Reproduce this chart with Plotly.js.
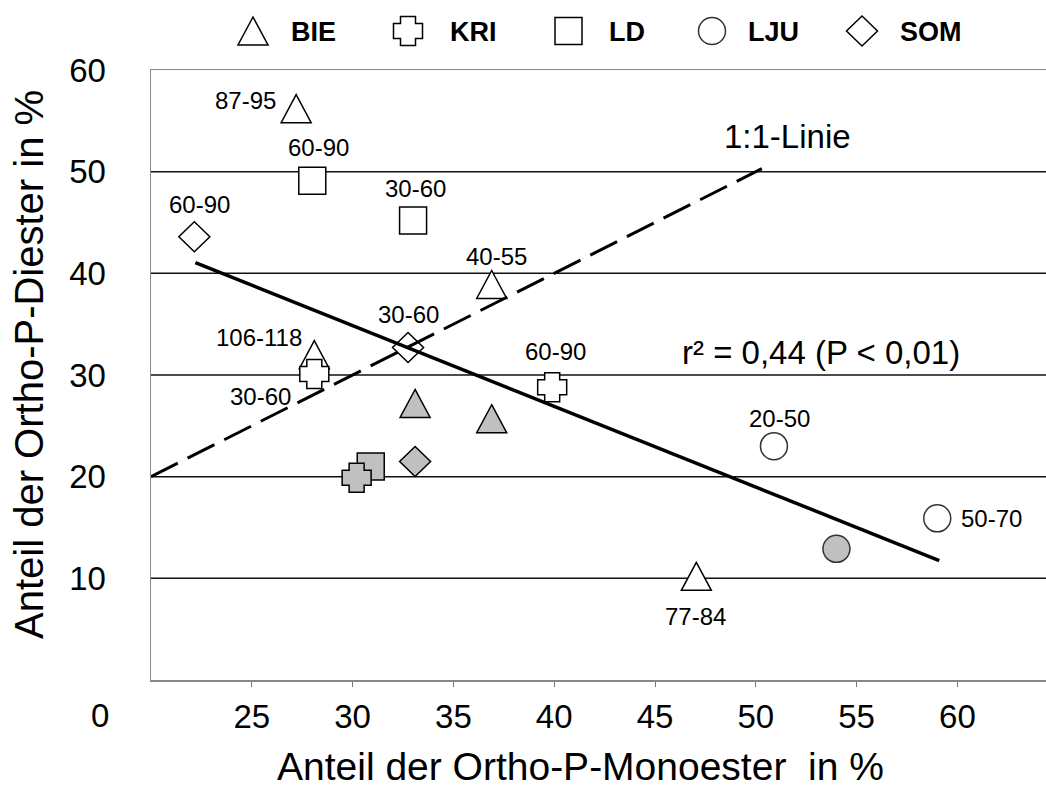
<!DOCTYPE html>
<html>
<head>
<meta charset="utf-8">
<script src="https://cdn.plot.ly/plotly-3.0.1.min.js"></script>
<style>html,body{margin:0;padding:0;background:#fff}</style>
</head>
<body>
<div id="chart" style="width:1046px;height:789px"></div>
<script>
// Sites shown in the legend row
const groups = ['BIE', 'KRI', 'LD', 'LJU', 'SOM'];

// Shares of ortho-P monoester (x) and ortho-P diester (y) in %, per site.
// "open" = samples labelled with depth in cm, "filled" = unlabelled samples.
const bieX = [27.2, 36.9, 28.1, 47.05];
const bieY = [56.2, 38.9, 32.0, 10.2];
const bieDepth = ['87-95', '40-55', '106-118', '77-84'];
const bieFilledX = [33.1, 36.9];
const bieFilledY = [27.2, 25.7];

const kriX = [28.1, 39.9];
const kriY = [30.1, 28.8];
const kriDepth = ['30-60', '60-90'];
const kriFilledX = [30.2];
const kriFilledY = [19.9];

const ldX = [28.0, 33.0];
const ldY = [49.1, 45.2];
const ldDepth = ['60-90', '30-60'];
const ldFilledX = [30.9];
const ldFilledY = [21.0];

const ljuX = [50.9, 59.0];
const ljuY = [23.0, 15.9];
const ljuDepth = ['20-50', '50-70'];
const ljuFilledX = [54.0];
const ljuFilledY = [12.9];

const somX = [22.15, 32.75];
const somY = [43.6, 32.7];
const somDepth = ['60-90', '30-60'];
const somFilledX = [33.1];
const somFilledY = [21.5];

// Regression line (r² = 0,44) and the 1:1 reference line
const trendX = [22.2, 59.1];
const trendY = [41.05, 11.75];
const identX = [20, 50.3];
const identY = [20, 50.3];

// Axis ticks
const xTicks = [25, 30, 35, 40, 45, 50, 55, 60];
const yTicks = [10, 20, 30, 40, 50, 60];

// ---- styling ----
const FONT = 'Liberation Sans, Arial, Helvetica, sans-serif';
const GREY = '#c0c0c0';

// marker outlines in pixels, y pointing up
const SYMBOLS = {
  BIE: {type: 'path', path: 'M0,14 L15,-14 L-15,-14 Z'},
  KRI: {type: 'path', path: 'M-7.5,14.5 H7.5 V7.5 H14.5 V-7.5 H7.5 V-14.5 H-7.5 V-7.5 H-14.5 V7.5 H-7.5 Z'},
  LD:  {type: 'path', path: 'M-13.5,13.5 H13.5 V-13.5 H-13.5 Z'},
  LJU: {type: 'circle', x0: -13.5, x1: 13.5, y0: -13.5, y1: 13.5},
  SOM: {type: 'path', path: 'M0,15 L15.5,0 L0,-15 L-15.5,0 Z'}
};
const OUTLINE = {BIE: '#000', KRI: '#000', LD: '#000', LJU: '#333', SOM: '#000'};

// label offsets (px right, px down) for the depth labels of open markers
const labelShift = {
  BIE: [[-51, -8], [5, -28], [-55, -17], [-1, 40]],
  KRI: [[-54, 23], [3, -36]],
  LD:  [[6, -33], [2, -32]],
  LJU: [[5.5, -28], [54, 0]],
  SOM: [[5, -32], [0, -33]]
};

const sets = [
  {g: 'BIE', x: bieX, y: bieY, lab: bieDepth, fx: bieFilledX, fy: bieFilledY},
  {g: 'LD',  x: ldX,  y: ldY,  lab: ldDepth,  fx: ldFilledX,  fy: ldFilledY},
  {g: 'LJU', x: ljuX, y: ljuY, lab: ljuDepth, fx: ljuFilledX, fy: ljuFilledY},
  {g: 'SOM', x: somX, y: somY, lab: somDepth, fx: somFilledX, fy: somFilledY},
  {g: 'KRI', x: kriX, y: kriY, lab: kriDepth, fx: kriFilledX, fy: kriFilledY}
];

function markerShape(g, xv, yv, fill, xref, yref, layer) {
  const s = Object.assign({}, SYMBOLS[g]);
  return Object.assign(s, {
    xref: xref, yref: yref,
    xsizemode: 'pixel', ysizemode: 'pixel',
    xanchor: xv, yanchor: yv,
    fillcolor: fill,
    line: {color: OUTLINE[g], width: 1.5},
    layer: layer
  });
}

const shapes = [];
const annotations = [];

// horizontal grid lines below the frame top (the top is the grey frame line)
yTicks.filter(v => v < 60).forEach(function (v) {
  shapes.push({
    type: 'line', xref: 'paper', x0: 0, x1: 1, yref: 'y', y0: v, y1: v,
    line: {color: '#111', width: 1.5}, layer: 'below'
  });
});

sets.forEach(function (s) {
  s.fx.forEach(function (xv, i) {
    shapes.push(markerShape(s.g, xv, s.fy[i], GREY, 'x', 'y', 'between'));
  });
  s.x.forEach(function (xv, i) {
    shapes.push(markerShape(s.g, xv, s.y[i], '#fff', 'x', 'y', 'between'));
    const off = labelShift[s.g][i];
    annotations.push({
      x: xv, y: s.y[i], xref: 'x', yref: 'y',
      text: s.lab[i], showarrow: false,
      xanchor: 'center', yanchor: 'middle',
      xshift: off[0], yshift: -off[1],
      font: {family: FONT, size: 24, color: '#000'}
    });
  });
});

// plot frame in page pixels: left edge, width, bottom edge, height
const L = 151, W = 895, B = 680, H = 610;
const px = v => (v - L) / W;
const py = v => (B - v) / H;

// legend row above the plot
const legendIcon = [253, 408, 568.5, 712, 862];
const legendText = [289, 448, 607, 746, 898];
groups.forEach(function (g, i) {
  shapes.push(markerShape(g, px(legendIcon[i]), py(31), '#fff', 'paper', 'paper', 'above'));
  annotations.push({
    x: px(legendText[i]), y: py(32), xref: 'paper', yref: 'paper',
    text: '<b>' + g + '</b>', showarrow: false,
    xanchor: 'left', yanchor: 'middle',
    font: {family: FONT, size: 27, color: '#000'}
  });
});

// line labels
annotations.push({
  x: 51.55, y: 53.5, xref: 'x', yref: 'y', text: '1:1-Linie', showarrow: false,
  xanchor: 'center', yanchor: 'middle', font: {family: FONT, size: 33, color: '#000'}
});
annotations.push({
  x: 53.23, y: 32.25, xref: 'x', yref: 'y', text: 'r² = 0,44 (P < 0,01)', showarrow: false,
  xanchor: 'center', yanchor: 'middle', font: {family: FONT, size: 33, color: '#000'}
});

// origin label
annotations.push({
  x: px(111), y: py(715), xref: 'paper', yref: 'paper', text: '0', showarrow: false,
  xanchor: 'right', yanchor: 'middle', font: {family: FONT, size: 33, color: '#000'}
});

// axis titles
annotations.push({
  x: px(580), y: py(766), xref: 'paper', yref: 'paper',
  text: 'Anteil der Ortho-P-Monoester  in %', showarrow: false,
  xanchor: 'center', yanchor: 'middle', font: {family: FONT, size: 39, color: '#000'}
});
annotations.push({
  x: px(29), y: py(365), xref: 'paper', yref: 'paper',
  text: 'Anteil der Ortho-P-Diester in %', showarrow: false, textangle: -90,
  xanchor: 'center', yanchor: 'middle', font: {family: FONT, size: 40, color: '#000'}
});

const traces = [
  {
    x: identX, y: identY, type: 'scatter', mode: 'lines',
    line: {color: '#000', width: 3, dash: '30px,11px'},
    hoverinfo: 'skip', showlegend: false
  },
  {
    x: trendX, y: trendY, type: 'scatter', mode: 'lines',
    line: {color: '#000', width: 3.5},
    hoverinfo: 'skip', showlegend: false
  }
];

const layout = {
  width: 1046, height: 789,
  margin: {l: L, r: 1046 - L - W, t: B - H, b: 789 - B, autoexpand: false},
  paper_bgcolor: '#fff', plot_bgcolor: '#fff',
  showlegend: false,
  font: {family: FONT, color: '#000'},
  xaxis: {
    range: [20, 20 + W / 20.16],
    tickvals: xTicks,
    ticks: 'outside', ticklen: 5, tickwidth: 1, tickcolor: '#777',
    ticklabelstandoff: 2,
    tickfont: {family: FONT, size: 33, color: '#000'},
    showline: true, linecolor: '#888', linewidth: 1.5, mirror: true,
    showgrid: false, zeroline: false
  },
  yaxis: {
    range: [0, 60],
    tickvals: yTicks,
    ticks: '',
    ticklabelstandoff: 37,
    tickfont: {family: FONT, size: 33, color: '#000'},
    showline: true, linecolor: '#888', linewidth: 1.5,
    showgrid: false,
    zeroline: false
  },
  shapes: shapes,
  annotations: annotations
};

Plotly.newPlot('chart', traces, layout, {displayModeBar: false, staticPlot: true});
</script>
</body>
</html>
